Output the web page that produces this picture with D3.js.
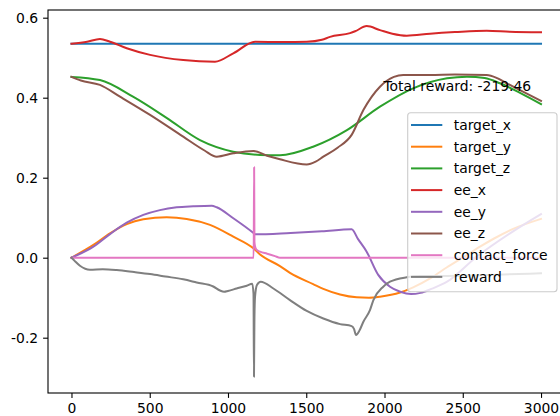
<!DOCTYPE html>
<html>
<head>
<meta charset="utf-8">
<script src="https://cdn.jsdelivr.net/npm/d3@7"></script>
<style>
body { margin: 0; background: #fff; }
svg text { font-family: "DejaVu Sans", sans-serif; }
</style>
</head>
<body>
<div id="chart"></div>
<script>
// series: [step, value]
var targetX = [[0,0.535],[3000,0.535]];
var targetY = [[0,0],[140,0.032],[246,0.061],[353,0.084],[459,0.096],[608,0.101],[736,0.097],[885,0.082],[1034,0.0525],[1162,0.0235],[1205,0.008],[1332,-0.021],[1396,-0.038],[1544,-0.066],[1609,-0.078],[1716,-0.092],[1822,-0.099],[1900,-0.1],[1971,-0.0975],[2100,-0.087],[2183,-0.074],[2300,-0.05],[2397,-0.0245],[2500,0.0],[2610,0.0275],[2700,0.048],[2822,0.072],[3000,0.097]];
var targetZ = [[0,0.452],[182,0.444],[393,0.4025],[610,0.349],[821,0.294],[1033,0.265],[1206,0.257],[1332,0.256],[1544,0.2775],[1760,0.319],[1971,0.3775],[2183,0.4235],[2400,0.4485],[2527,0.4525],[2640,0.449],[2738,0.436],[2872,0.411],[3000,0.384]];
var eeX = [[0,0.535],[100,0.54],[182,0.547],[246,0.54],[353,0.5235],[502,0.507],[714,0.494],[917,0.49],[1034,0.511],[1173,0.54],[1350,0.539],[1503,0.54],[1600,0.545],[1652,0.552],[1780,0.5615],[1812,0.566],[1886,0.579],[1971,0.569],[2050,0.56],[2142,0.555],[2291,0.56],[2450,0.564],[2653,0.5675],[2800,0.565],[3000,0.5635]];
var eeY = [[0,0],[140,0.0275],[246,0.059],[353,0.0875],[459,0.107],[565,0.119],[672,0.126],[778,0.1285],[896,0.13],[928,0.126],[1034,0.0985],[1165,0.061],[1173,0.0585],[1400,0.062],[1600,0.066],[1790,0.071],[1830,0.047],[1886,0.015],[1960,-0.043],[2035,-0.0725],[2100,-0.085],[2170,-0.091],[2230,-0.088],[2300,-0.078],[2400,-0.06],[2589,0.0025],[2802,0.061],[3000,0.109]];
var eeZ = [[0,0.452],[60,0.443],[182,0.432],[310,0.4025],[502,0.357],[714,0.3025],[850,0.268],[928,0.2525],[1034,0.261],[1162,0.2668],[1250,0.255],[1332,0.246],[1503,0.233],[1560,0.24],[1609,0.2525],[1700,0.275],[1790,0.307],[1865,0.369],[1971,0.4275],[2060,0.452],[2120,0.457],[2291,0.457],[2450,0.458],[2653,0.457],[2720,0.449],[2781,0.436],[3000,0.392]];
var contactForce = [[0,0],[1164,0],[1167,0.226],[1169,0.04],[1173,0.028],[1182,0.02],[1205,0.015],[1250,0.01],[1300,0.004],[1332,0],[3000,0]];
var reward = [[0,0],[20,-0.008],[54,-0.02],[118,-0.03],[200,-0.029],[289,-0.031],[400,-0.036],[502,-0.041],[600,-0.047],[714,-0.054],[800,-0.062],[906,-0.072],[949,-0.082],[975,-0.085],[1000,-0.083],[1055,-0.077],[1120,-0.07],[1155,-0.065],[1163,-0.09],[1166,-0.2975],[1169,-0.15],[1173,-0.097],[1185,-0.068],[1209,-0.06],[1290,-0.077],[1396,-0.106],[1503,-0.133],[1609,-0.152],[1716,-0.166],[1790,-0.171],[1805,-0.178],[1818,-0.193],[1840,-0.182],[1865,-0.16],[1907,-0.131],[1929,-0.106],[1992,-0.0725],[2035,-0.06],[2142,-0.049],[2227,-0.046],[2482,-0.045],[2760,-0.042],[3000,-0.039]];

var seriesNames = ["target_x","target_y","target_z","ee_x","ee_y","ee_z","contact_force","reward"];
var seriesData = [targetX, targetY, targetZ, eeX, eeY, eeZ, contactForce, reward];
var colors = ["#1f77b4","#ff7f0e","#2ca02c","#d62728","#9467bd","#8c564b","#e377c2","#7f7f7f"];
var xTicks = [0,500,1000,1500,2000,2500,3000];
var yTicks = [-0.2,0.0,0.2,0.4,0.6];
var totalReward = -219.46;

var width = 560, height = 416;
var plotLeft = 48, plotRight = 564.5, plotTop = 10, plotBottom = 393;
var fontSize = "13.9px";

var x = d3.scaleLinear().domain([-150, 3150]).range([plotLeft, plotRight]);
var y = d3.scaleLinear().domain([-0.33825, 0.61925]).range([plotBottom, plotTop]);

var svg = d3.select("#chart")
	.append("svg")
	.attr("width", width)
	.attr("height", height);

svg.append("defs").append("clipPath")
	.attr("id", "plot")
	.append("rect")
	.attr("x", plotLeft)
	.attr("y", plotTop)
	.attr("width", plotRight - plotLeft)
	.attr("height", plotBottom - plotTop);

var line = d3.line()
	.x(function(d) { return x(d[0]); })
	.y(function(d) { return y(d[1]); })
	.curve(d3.curveMonotoneX);

var lines = svg.append("g").attr("clip-path", "url(#plot)");

seriesData.forEach(function(s, i) {
	lines.append("path")
		.datum(s)
		.attr("d", line)
		.attr("fill", "none")
		.attr("stroke", colors[i])
		.attr("stroke-width", 2)
		.attr("stroke-linejoin", "round")
		.attr("stroke-linecap", "square");
});

// axes
var xAxis = d3.axisBottom(x).tickValues(xTicks).tickSize(4.9).tickPadding(4.9)
	.tickFormat(d3.format("d"));
var yAxis = d3.axisLeft(y).tickValues(yTicks).tickSize(4.9).tickPadding(4.9)
	.tickFormat(function(d) { return d3.format(".1f")(d).replace("\u2212", "-"); });

var gx = svg.append("g").attr("transform", "translate(0," + plotBottom + ")").call(xAxis);
var gy = svg.append("g").attr("transform", "translate(" + plotLeft + ",0)").call(yAxis);

[gx, gy].forEach(function(g) {
	g.select(".domain").remove();
	g.selectAll("line").attr("stroke", "#000").attr("stroke-width", 1.1);
	g.selectAll("text").style("font-size", fontSize).attr("fill", "#000");
});

// frame
svg.append("rect")
	.attr("x", plotLeft)
	.attr("y", plotTop)
	.attr("width", plotRight - plotLeft)
	.attr("height", plotBottom - plotTop)
	.attr("fill", "none")
	.attr("stroke", "#000")
	.attr("stroke-width", 1.1);

svg.append("text")
	.attr("x", 383.5)
	.attr("y", 91)
	.text("Total reward: " + totalReward.toFixed(2))
	.style("font-size", fontSize)
	.attr("fill", "#000");

// legend
var legend = svg.append("g");

legend.append("rect")
	.attr("x", 407.7)
	.attr("y", 112.7)
	.attr("width", 149.3)
	.attr("height", 179)
	.attr("rx", 3)
	.attr("fill", "#fff")
	.attr("fill-opacity", 0.8)
	.attr("stroke", "#cccccc")
	.attr("stroke-width", 1.1);

seriesNames.forEach(function(name, i) {
	var cy = 125 + i * 21.7;
	legend.append("line")
		.attr("x1", 411)
		.attr("x2", 442.3)
		.attr("y1", cy)
		.attr("y2", cy)
		.attr("stroke", colors[i])
		.attr("stroke-width", 2);
	legend.append("text")
		.attr("x", 453.7)
		.attr("y", cy)
		.attr("dy", ".35em")
		.text(name)
		.style("font-size", fontSize)
		.attr("fill", "#000");
});
</script>
</body>
</html>
